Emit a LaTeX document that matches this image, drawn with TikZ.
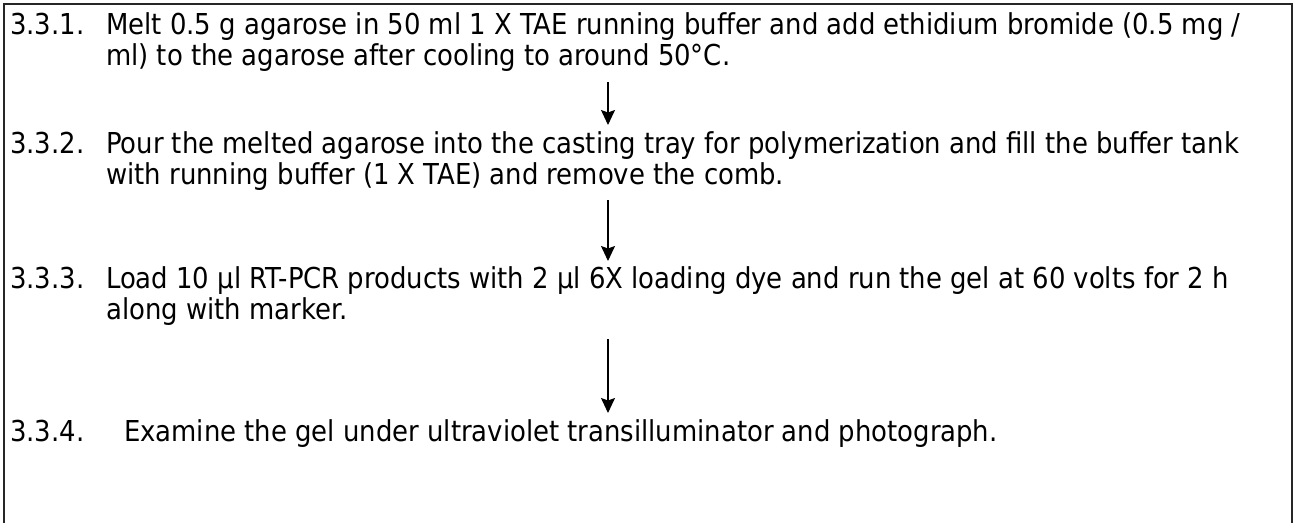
\documentclass[tikz,border=0pt]{standalone}
\usepackage{fontspec}
\setmainfont{DejaVu Sans Condensed}
\usetikzlibrary{arrows.meta}
\begin{document}
\begin{tikzpicture}[x=1pt,y=-1pt,
  txt/.style={anchor=base west,inner sep=0pt,font=\fontsize{28.8}{34}\selectfont},
  flow/.style={line width=1.4pt,-{Stealth[length=15pt,width=14pt,inset=2.5pt]}},
  frame/.style={line width=1.3pt,draw=black!85}]
\useasboundingbox (0,0) rectangle (1298,522);
\draw[frame] (4,530) -- (4,4) -- (1292,4) -- (1292,530);
% step 1
\node[txt] (n1) at (10,34) {3.3.1.};
\node[txt] (s1a) at (106,34) {Melt 0.5 g agarose in 50 ml 1 X TAE running buffer and add ethidium bromide (0.5 mg /};
\node[txt] (s1b) at (106,65) {ml) to the agarose after cooling to around 50°C.};
% step 2
\node[txt] (n2) at (10,153) {3.3.2.};
\node[txt] (s2a) at (106,153) {Pour the melted agarose into the casting tray for polymerization and fill the buffer tank};
\node[txt] (s2b) at (106,184) {with running buffer (1 X TAE) and remove the comb.};
% step 3
\node[txt] (n3) at (10,288) {3.3.3.};
\node[txt] (s3a) at (106,288) {Load 10 µl RT-PCR products with 2 µl 6X loading dye and run the gel at 60 volts for 2 h};
\node[txt] (s3b) at (106,319) {along with marker.};
% step 4
\node[txt] (n4) at (10,441) {3.3.4.};
\node[txt] (s4a) at (124,441) {Examine the gel under ultraviolet transilluminator and photograph.};
% arrows
\coordinate (a1s) at (608,82);  \coordinate (a1e) at (608,125);
\coordinate (a2s) at (608,200); \coordinate (a2e) at (608,261);
\coordinate (a3s) at (608,339); \coordinate (a3e) at (608,413);
\draw[flow] (a1s) -- (a1e);
\draw[flow] (a2s) -- (a2e);
\draw[flow] (a3s) -- (a3e);
\end{tikzpicture}
\end{document}
